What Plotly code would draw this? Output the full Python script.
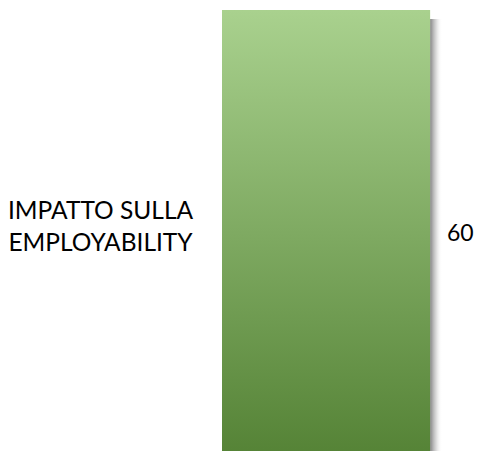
import plotly.graph_objects as go

categories = ["IMPATTO SULLA<br>EMPLOYABILITY"]
values = [60]

fig = go.Figure()

v = values[0]
half = 0.5
# shadow
fig.add_trace(go.Scatter(
    x=[v, v * 1.058, v * 1.058, v, v],
    y=[-half, -half, half - 0.02, half - 0.02, -half],
    mode="lines", line=dict(width=0), fill="toself",
    fillgradient=dict(type="horizontal",
                      colorscale=[[0, "rgba(90,90,90,0.75)"], [0.5, "rgba(150,150,150,0.35)"], [1, "rgba(255,255,255,0)"]]),
    hoverinfo="skip", showlegend=False))
# gradient bar
fig.add_trace(go.Scatter(
    x=[0, v, v, 0, 0],
    y=[-half, -half, half, half, -half],
    mode="lines", line=dict(width=0), fill="toself",
    fillgradient=dict(type="vertical",
                      colorscale=[[0, "#548235"], [1, "#a9d18e"]]),
    hoverinfo="skip", showlegend=False, name=categories[0]))

fig.add_annotation(x=v, y=0, xref="x", yref="y", text=str(v), showarrow=False,
                   xanchor="left", xshift=15, yshift=3,
                   font=dict(family="Lato, sans-serif", size=23, color="#000"))
fig.add_annotation(x=-0.5495, y=0, xref="paper", yref="y", text=categories[0], showarrow=False,
                   xanchor="center", yshift=10, align="center",
                   font=dict(family="Lato, sans-serif", size=24.5, color="#000"))

fig.update_layout(
    width=478, height=451,
    margin=dict(l=222, r=34, t=10, b=0),
    paper_bgcolor="white", plot_bgcolor="white",
    xaxis=dict(range=[0, 64], visible=False, fixedrange=True),
    yaxis=dict(range=[-0.48, 0.5], visible=False, fixedrange=True),
    showlegend=False,
    hovermode=False,
)

fig.write_html("out.html", config={"displayModeBar": False},
               post_script="document.body.style.margin='0';document.body.style.overflow='hidden';")
